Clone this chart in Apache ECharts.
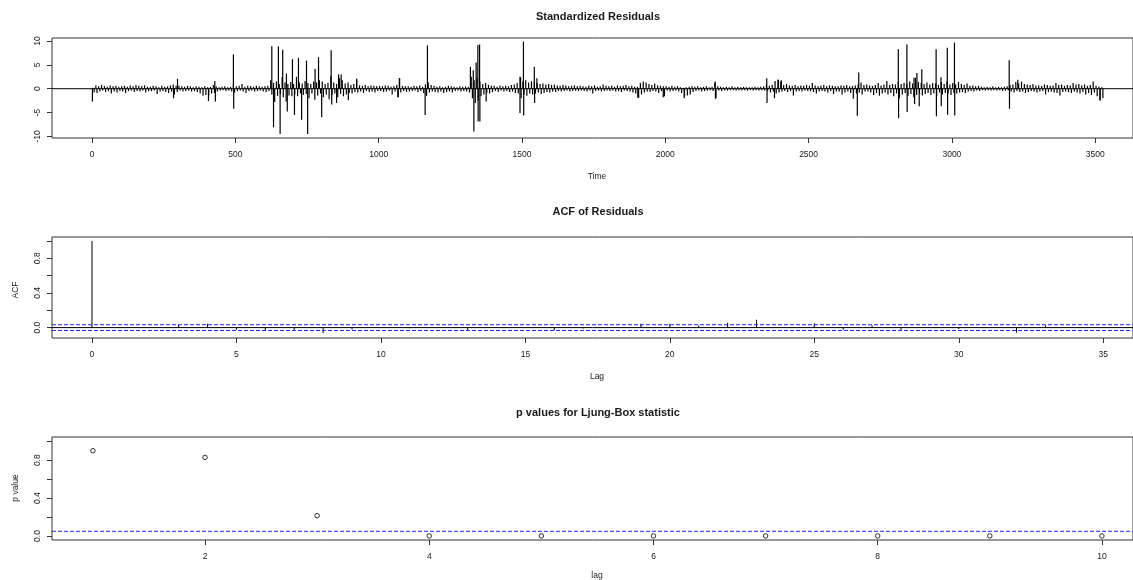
<!DOCTYPE html>
<html><head><meta charset="utf-8">
<script src="https://cdn.jsdelivr.net/npm/echarts@6/dist/echarts.min.js"></script>
<style>html,body{margin:0;padding:0;background:#fff}#c{width:1133px;height:580px}</style>
</head><body><div id="c"></div><script>
// ---------- data ----------
// Standardized residuals: per 10-step bin, the highest and lowest value
const residBinWidth = 10;
const residHigh = [
 0.2,0.7,0.5,0.8,0.6,0.4,0.7,0.5,0.6,0.4,
 0.5,0.6,0.4,0.7,0.5,0.8,0.6,0.5,0.7,0.4,
 0.4,0.6,0.5,0.3,0.6,0.4,0.5,0.7,0.9,0.6,
 0.6,0.5,0.4,0.6,0.5,0.3,0.5,0.4,0.3,0.5,
 0.3,0.4,0.8,0.5,0.3,0.4,0.5,0.3,0.4,0.9,
 0.5,0.6,1.0,0.4,0.6,0.5,0.4,0.6,0.5,0.4,
 0.5,0.6,1.8,1.2,1.5,1.0,2.4,1.3,1.0,1.4,
 1.0,2.5,1.3,1.1,1.6,1.2,1.0,1.5,1.3,1.8,
 1.5,1.0,1.2,2.6,1.3,1.0,2.2,1.8,1.1,1.3,
 0.8,1.0,2.0,0.7,0.6,0.8,0.5,0.7,0.6,0.5,
 0.6,0.5,0.7,0.6,0.4,0.5,0.8,2.2,0.6,0.5,
 0.5,0.4,0.6,0.5,0.7,0.4,0.9,1.3,0.8,0.6,
 0.4,0.5,0.3,0.4,0.6,0.5,0.4,0.3,0.5,0.4,
 0.5,0.4,2.5,1.8,2.2,1.5,1.0,1.2,0.8,0.6,
 0.6,0.4,0.7,0.5,0.6,0.5,0.8,0.9,1.2,2.5,
 1.5,1.8,1.3,1.6,1.4,1.2,1.0,1.1,0.9,1.0,
 0.8,0.9,0.7,0.6,0.8,0.7,0.5,0.6,0.7,0.5,
 0.6,0.5,0.4,0.6,0.5,0.7,0.4,0.5,0.9,0.6,
 0.5,0.6,0.4,0.7,0.5,0.6,0.8,0.5,0.6,0.4,
 0.4,1.2,1.5,1.3,1.0,0.8,1.1,0.7,0.6,0.5,
 0.5,0.4,0.6,0.4,0.5,0.3,0.2,0.3,0.4,0.5,
 0.4,0.5,0.3,0.4,0.5,0.3,0.4,1.2,0.5,0.4,
 0.3,0.4,0.3,0.5,0.3,0.4,0.3,0.4,0.3,0.3,
 0.3,0.4,0.3,0.4,0.5,0.9,0.6,0.8,1.6,1.9,
 1.5,0.8,1.0,0.7,0.6,0.8,0.5,0.7,0.6,0.8,
 0.6,1.2,0.7,0.5,0.6,0.8,0.5,0.7,0.6,0.5,
 0.5,0.7,0.6,0.8,0.5,0.6,0.7,0.9,1.3,0.8,
 0.9,0.7,0.6,0.8,1.2,0.7,0.9,1.6,0.8,1.0,
 0.9,1.4,1.0,1.2,1.0,1.5,1.1,2.3,1.4,1.2,
 1.0,1.3,0.9,1.2,1.1,0.8,1.4,1.0,1.5,0.9,
 1.2,0.9,1.4,1.0,0.8,1.1,0.6,0.7,0.5,0.6,
 0.4,0.3,0.4,0.3,0.5,0.3,0.4,0.3,0.4,0.5,
 0.8,0.9,1.4,1.1,1.5,1.0,0.9,0.8,1.0,0.7,
 0.7,0.6,0.9,0.8,0.6,0.7,1.2,0.8,0.9,0.6,
 0.8,0.7,1.2,0.9,1.0,0.7,0.9,0.6,0.8,1.5,
 0.6,0.4,0.3
];
const residLow = [
 -0.8,-0.9,-0.6,-0.4,-0.7,-0.5,-1.0,-0.6,-0.8,-0.5,
 -0.6,-0.9,-0.5,-0.4,-0.7,-0.5,-0.6,-0.4,-0.8,-0.5,
 -0.5,-0.4,-1.1,-0.6,-0.5,-0.7,-0.9,-0.6,-1.2,-0.7,
 -0.4,-0.6,-0.5,-0.4,-0.6,-0.5,-0.7,-1.0,-1.5,-1.3,
 -1.4,-1.0,-0.9,-0.6,-0.4,-0.3,-0.5,-0.4,-0.6,-0.8,
 -0.5,-0.4,-0.6,-0.9,-0.5,-0.4,-0.6,-0.5,-0.4,-0.6,
 -0.7,-0.5,-1.2,-2.8,-1.5,-1.1,-1.8,-2.7,-1.4,-1.6,
 -1.2,-1.6,-1.0,-1.3,-1.1,-2.0,-1.0,-2.3,-1.4,-1.0,
 -1.8,-1.2,-2.2,-1.3,-1.0,-1.8,-1.1,-1.6,-1.2,-0.9,
 -1.0,-0.7,-0.8,-0.6,-0.9,-0.5,-0.7,-0.6,-0.8,-0.5,
 -0.5,-0.7,-0.6,-0.4,-1.2,-0.6,-1.8,-0.8,-0.5,-0.7,
 -0.6,-0.5,-0.4,-0.7,-0.5,-0.9,-1.5,-0.8,-0.6,-0.7,
 -0.8,-0.6,-0.9,-0.7,-0.6,-0.8,-0.5,-0.4,-0.6,-0.5,
 -0.6,-0.8,-2.0,-3.0,-2.5,-1.6,-1.2,-0.9,-1.0,-0.7,
 -0.5,-0.7,-0.4,-0.6,-0.5,-0.7,-0.6,-0.9,-1.0,-2.0,
 -1.2,-1.5,-1.0,-1.2,-1.0,-0.8,-1.1,-0.9,-0.7,-0.8,
 -0.6,-0.7,-0.5,-0.6,-0.5,-0.4,-0.6,-0.5,-0.4,-0.5,
 -0.4,-0.5,-0.6,-0.4,-1.0,-0.5,-0.4,-0.6,-0.5,-0.4,
 -0.5,-0.4,-0.6,-0.5,-0.7,-0.4,-0.5,-0.6,-0.8,-1.0,
 -1.9,-1.2,-0.8,-0.6,-0.7,-0.5,-0.6,-0.9,-0.5,-1.6,
 -0.4,-0.6,-0.5,-0.4,-0.6,-0.9,-1.6,-1.4,-1.2,-0.7,
 -0.5,-0.4,-0.6,-0.5,-0.4,-0.3,-0.5,-2.0,-0.4,-0.5,
 -0.3,-0.4,-0.3,-0.3,-0.4,-0.3,-0.4,-0.3,-0.4,-0.3,
 -0.4,-0.3,-0.4,-0.3,-0.4,-0.5,-0.8,-0.6,-1.0,-0.8,
 -0.6,-0.5,-0.7,-0.5,-1.4,-0.6,-0.5,-0.6,-0.4,-0.5,
 -0.5,-0.7,-1.0,-0.6,-0.5,-0.6,-0.8,-0.5,-1.1,-0.6,
 -0.6,-1.2,-0.8,-0.6,-0.9,-0.7,-1.0,-0.8,-1.2,-0.6,
 -0.6,-0.8,-1.3,-0.9,-1.5,-1.0,-0.8,-1.2,-0.9,-1.6,
 -1.0,-2.0,-1.2,-0.9,-1.5,-1.1,-1.8,-1.3,-1.0,-1.4,
 -1.1,-0.9,-1.3,-1.0,-1.5,-0.8,-1.2,-0.9,-1.0,-1.3,
 -0.9,-1.0,-0.8,-0.7,-0.9,-0.6,-0.5,-0.6,-0.4,-0.5,
 -0.3,-0.4,-0.3,-0.4,-0.3,-0.4,-0.3,-0.5,-0.4,-0.3,
 -0.6,-0.8,-0.5,-0.7,-0.6,-0.9,-0.7,-0.5,-0.6,-0.8,
 -0.6,-0.5,-1.2,-0.7,-0.6,-0.8,-0.9,-1.4,-0.7,-0.6,
 -0.7,-0.9,-0.6,-0.8,-1.0,-0.7,-1.2,-0.9,-1.3,-0.8,
 -1.6,-2.5,-2.0
];
// Large individual residuals [time, value]
const residSpikes = [
 [1,-2.7],[284,-2.0],[298,2.1],[406,-2.6],[428,1.6],[430,-2.7],[493,7.2],[494,-4.2],
 [627,8.9],[633,-8.1],[650,8.9],[656,-9.5],[665,8.2],[678,3.2],[681,-4.8],[699,6.2],[706,-5.5],
 [720,6.5],[731,-6.5],[748,5.9],[752,-9.5],[778,4.2],[790,6.6],[801,-6.0],[834,8.1],[836,-3.3],
 [853,-3.0],[860,3.0],[869,3.0],[894,-2.4],[923,2.1],[1068,-1.8],[1072,2.2],
 [1162,-5.5],[1170,9.1],[1320,4.6],[1330,3.9],[1332,-9.0],[1340,5.5],[1346,9.2],[1347,-6.9],
 [1352,9.3],[1353,-6.9],[1375,-2.7],[1493,-5.1],[1495,2.4],[1505,9.9],[1506,-5.6],[1543,4.6],
 [1544,-3.0],[1552,2.2],[1904,-1.9],[1993,-1.8],[2066,-2.0],[2174,1.5],[2175,-2.1],[2354,2.2],
 [2355,-3.0],[2381,-2.0],[2395,1.9],[2405,1.8],[2656,-2.1],[2670,-5.7],[2675,3.4],
 [2813,8.3],[2814,-6.2],[2843,9.3],[2844,-4.9],[2868,2.3],[2870,-3.2],[2878,3.3],[2886,-3.7],
 [2895,4.1],[2945,8.3],[2946,-5.8],[2962,2.4],[2963,-3.7],[2984,8.6],[2985,-5.5],[3009,9.7],
 [3010,-5.6],[3200,6.0],[3201,-4.2],[3230,1.9],[3517,-2.4]
];
const timeTicks = [0,500,1000,1500,2000,2500,3000,3500];
const residTicks = [-10,-5,0,5,10];

// ACF of residuals
const acfLags = [0,1,2,3,4,5,6,7,8,9,10,11,12,13,14,15,16,17,18,19,20,21,22,23,24,25,26,27,28,29,30,31,32,33,34,35];
const acfValues = [1,0.003,0.006,0.03,0.045,-0.025,-0.035,-0.025,-0.065,-0.02,0.004,-0.008,0.005,-0.025,0.003,0.008,-0.03,-0.01,0.003,0.045,0.045,0.025,0.055,0.09,0.002,0.05,-0.025,0.025,-0.025,0.003,-0.015,0.003,-0.06,0.025,0.002,0.002];
const acfBound = 0.033;
const lagTicks = [0,5,10,15,20,25,30,35];
const acfTicks = [0,0.2,0.4,0.6,0.8,1.0];
const acfTickLabels = [0,0.4,0.8];

// Ljung-Box p values
const lbLags = [1,2,3,4,5,6,7,8,9,10];
const lbPValues = [0.90,0.83,0.215,0.001,0.001,0.001,0.001,0.001,0.001,0.001];
const lbThreshold = 0.05;
const lbLagTicks = [2,4,6,8,10];
const pTicks = [0,0.2,0.4,0.6,0.8,1.0];
const pTickLabels = [0,0.4,0.8];

// axis ranges (x: [min, max], y: [min, max])
const xRange = [[-140, 3632], [-1.384, 36.03], [0.635, 10.277]];
const yRange = [[-10.35, 10.65], [-0.12, 1.045], [-0.042, 1.045]];

// ---------- build ----------
const residData = [];
for (let i = 0; i < residHigh.length; i++) {
  residData.push([i * residBinWidth + 3, residHigh[i]]);
  residData.push([i * residBinWidth + 7, residLow[i]]);
}
residSpikes.forEach(p => residData.push(p));
residData.sort((a, b) => a[0] - b[0]);

const FONT = "'Liberation Sans', Arial, sans-serif";
const INK = '#1a1a1a';
const BLUE = '#1f1fff';

function xAx(gi, ticks) {
  return {
    type: 'value', gridIndex: gi, min: xRange[gi][0], max: xRange[gi][1],
    axisLine: { show: false, onZero: false },
    splitLine: { show: false },
    axisTick: { show: true, inside: false, length: 5, lineStyle: { color: '#333' }, customValues: ticks },
    axisLabel: { customValues: ticks, margin: 12, fontSize: 8.5, color: INK, fontFamily: FONT, formatter: v => String(v) }
  };
}
function yAx(gi, ticks, labels, fmt) {
  return {
    type: 'value', gridIndex: gi, min: yRange[gi][0], max: yRange[gi][1],
    axisLine: { show: false, onZero: false },
    splitLine: { show: false },
    axisTick: { show: true, inside: false, length: 5, lineStyle: { color: '#333' }, customValues: ticks },
    axisLabel: { customValues: labels, rotate: 90, margin: 10, fontSize: 8.5, color: INK, fontFamily: FONT, formatter: fmt }
  };
}
function txt(x, y, text, opts) {
  return Object.assign({
    type: 'text', x: x, y: y, silent: true,
    style: Object.assign({ text: text, fill: INK, align: 'center', verticalAlign: 'middle', font: '8.5px ' + FONT }, (opts && opts.style) || {})
  }, (opts && opts.el) || {});
}
// horizontal reference line (abline h=value) spanning the whole panel
function hLine(gi, value, color, dashed) {
  return {
    type: 'line', xAxisIndex: gi, yAxisIndex: gi, silent: true, symbol: 'none', color: color,
    data: [[xRange[gi][0], value], [xRange[gi][1], value]],
    lineStyle: { color: color, width: 1, type: dashed ? [4, 2] : 'solid' },
    z: 3
  };
}

const gridBase = { left: 52, right: 0, show: true, borderColor: '#333', borderWidth: 1, backgroundColor: 'transparent', containLabel: false };

const acfData = acfLags.map((l, i) => [l, acfValues[i]]);
const lbData = lbLags.map((l, i) => [l, lbPValues[i]]);

const option = {
  animation: false,
  backgroundColor: '#fff',
  grid: [
    Object.assign({ top: 38, height: 100 }, gridBase),
    Object.assign({ top: 237, height: 101 }, gridBase),
    Object.assign({ top: 437, height: 103 }, gridBase)
  ],
  xAxis: [xAx(0, timeTicks), xAx(1, lagTicks), xAx(2, lbLagTicks)],
  yAxis: [
    yAx(0, residTicks, residTicks, v => String(v)),
    yAx(1, acfTicks, acfTickLabels, v => v.toFixed(1)),
    yAx(2, pTicks, pTickLabels, v => v.toFixed(1))
  ],
  series: [
    {
      type: 'bar', xAxisIndex: 0, yAxisIndex: 0, data: residData, barWidth: 1.2,
      itemStyle: { color: '#000' }, silent: true
    },
    hLine(0, 0, '#000', false),
    {
      type: 'bar', xAxisIndex: 1, yAxisIndex: 1, barWidth: 1, silent: true,
      data: acfData, itemStyle: { color: '#000' }
    },
    hLine(1, 0, '#000', false),
    hLine(1, acfBound, BLUE, true),
    hLine(1, -acfBound, BLUE, true),
    hLine(2, lbThreshold, BLUE, true),
    {
      type: 'scatter', xAxisIndex: 2, yAxisIndex: 2, silent: true,
      data: lbData, symbol: 'circle', symbolSize: 4.5,
      itemStyle: { color: 'rgba(0,0,0,0)', borderColor: '#000', borderWidth: 1 }, z: 4
    }
  ],
  graphic: [
    txt(598, 17, 'Standardized Residuals', { style: { font: 'bold 11px ' + FONT } }),
    txt(598, 212, 'ACF of Residuals', { style: { font: 'bold 11px ' + FONT } }),
    txt(598, 413, 'p values for Ljung-Box statistic', { style: { font: 'bold 11px ' + FONT } }),
    txt(597, 177, 'Time'),
    txt(597, 377, 'Lag'),
    txt(597, 576, 'lag'),
    txt(16, 290, 'ACF', { el: { rotation: Math.PI / 2 } }),
    txt(16, 488, 'p value', { el: { rotation: Math.PI / 2 } })
  ]
};

const chart = echarts.init(document.getElementById('c'), null, { renderer: 'canvas' });
chart.setOption(option);
</script></body></html>
